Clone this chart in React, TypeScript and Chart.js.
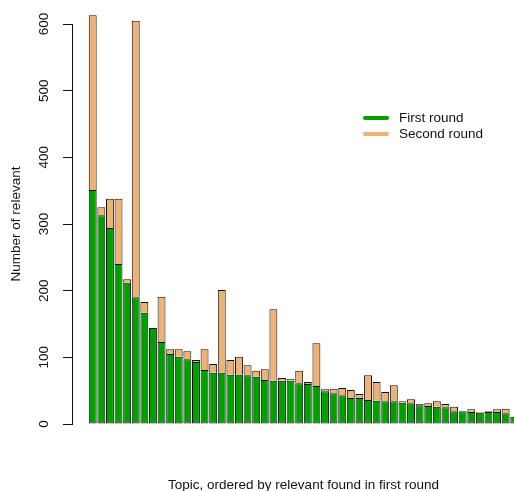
import React, { useEffect, useRef } from "react";
import { Chart, registerables } from "chart.js";

Chart.register(...registerables);

// Relevant documents per topic, topics ordered by first-round count
const firstRound = [
  351, 313, 294, 240, 212, 190, 167, 144, 123, 105,
  101, 97, 93, 81, 77, 77, 74, 74, 73, 71,
  66, 65, 65, 65, 61, 60, 57, 49, 46, 43,
  39, 39, 36, 35, 34, 34, 32, 31, 28, 27,
  26, 25, 19, 19, 18, 17, 18, 18, 16, 11,
];
const secondRound = [
  262, 12, 44, 98, 5, 415, 16, 0, 68, 7,
  11, 12, 3, 31, 13, 124, 22, 27, 15, 9,
  16, 107, 4, 3, 19, 3, 64, 3, 7, 11,
  12, 6, 37, 28, 14, 24, 2, 6, 2, 4,
  8, 5, 7, 0, 4, 1, 1, 4, 7, 0,
];
const yTicks = [0, 100, 200, 300, 400, 500, 600];
const seriesNames = ["First round", "Second round"];
const yTitle = "Number of relevant";
const xTitle = "Topic, ordered by relevant found in first round";

const GREEN = "#00a000";
const TAN = "#ecb276";
const FONT = '13.5px "Liberation Sans", Arial, sans-serif';

// Axis labels, titles and the line legend drawn on top of the bars
const annotations = {
  id: "annotations",
  afterDraw(chart: any) {
    const { ctx, chartArea } = chart;
    const y = chart.scales.y;
    ctx.save();
    ctx.fillStyle = "#111";
    ctx.font = FONT;
    ctx.textAlign = "center";
    ctx.textBaseline = "middle";
    for (const v of yTicks) {
      const py = y.getPixelForValue(v);
      ctx.save();
      ctx.translate(44, py);
      ctx.rotate(-Math.PI / 2);
      ctx.fillText(String(v), 0, 0);
      ctx.restore();
    }
    ctx.save();
    ctx.translate(16, (y.getPixelForValue(0) + y.getPixelForValue(600)) / 2);
    ctx.rotate(-Math.PI / 2);
    ctx.fillText(yTitle, 0, 0);
    ctx.restore();
    ctx.fillText(xTitle, (chartArea.left + chartArea.right) / 2, 485);

    // legend
    const colors = [GREEN, TAN];
    ctx.textAlign = "left";
    ctx.lineCap = "round";
    ctx.lineWidth = 4;
    seriesNames.forEach((name, i) => {
      const ly = 118 + i * 16;
      ctx.strokeStyle = colors[i];
      ctx.beginPath();
      ctx.moveTo(365, ly);
      ctx.lineTo(387, ly);
      ctx.stroke();
      ctx.fillStyle = "#111";
      ctx.fillText(name, 399, ly + 0.5);
    });
    ctx.restore();
  },
};

export default function App() {
  const canvasRef = useRef<HTMLCanvasElement | null>(null);

  useEffect(() => {
    if (!canvasRef.current) return;
    const toPoints = (arr: number[]) => arr.map((v, i) => ({ x: i + 1, y: v }));
    const common = {
      borderColor: "#111",
      borderWidth: 1,
      categoryPercentage: 1,
      barPercentage: 0.92,
      clip: false as const,
    };
    const chart = new Chart(canvasRef.current, {
      type: "bar",
      data: {
        datasets: [
          {
            label: seriesNames[0],
            data: toPoints(firstRound),
            backgroundColor: GREEN,
            borderSkipped: false,
            ...common,
          },
          {
            // stacked on top of the first round; its bottom edge is the green top edge
            label: seriesNames[1],
            data: toPoints(secondRound),
            backgroundColor: TAN,
            borderSkipped: "start",
            ...common,
          },
        ],
      },
      options: {
        responsive: false,
        animation: false,
        layout: { padding: { top: 24, bottom: 67, left: 0, right: 25 } },
        plugins: { legend: { display: false }, tooltip: { enabled: false } },
        scales: {
          x: {
            type: "linear",
            stacked: true,
            offset: false,
            bounds: "ticks",
            min: -1.41,
            max: firstRound.length + 2.41,
            display: false,
          },
          y: {
            stacked: true,
            min: 0,
            max: 600,
            ticks: { display: false, stepSize: 100 },
            grid: { drawOnChartArea: false, drawTicks: true, tickLength: 9, color: "#111" },
            border: { display: true, color: "#111", width: 1 },
            afterFit: (scale: any) => {
              scale.width = 72;
            },
          },
        },
      },
      plugins: [annotations],
    });
    return () => chart.destroy();
  }, []);

  return (
    <div style={{ position: "fixed", left: 0, top: 0, width: 514, height: 491, overflow: "hidden", background: "#fff" }}>
      <canvas ref={canvasRef} width={560} height={491} style={{ display: "block" }} />
    </div>
  );
}
